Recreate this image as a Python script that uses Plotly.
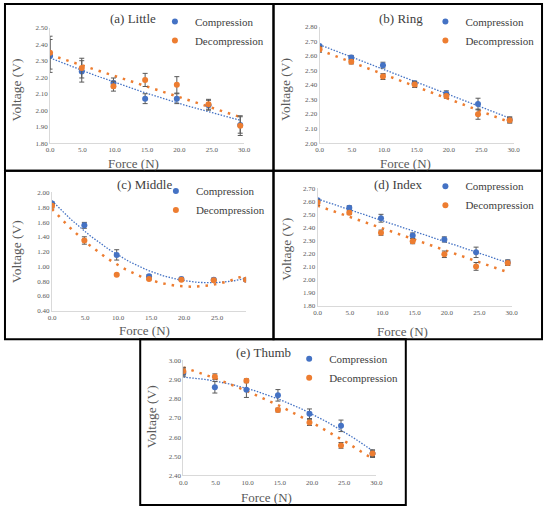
import numpy as np
import plotly.graph_objects as go

# Applied force (N) - same for all fingers
force = [0, 4.9, 9.8, 14.7, 19.6, 24.5, 29.4]

# (a) Little
little_comp = [2.33, 2.236, 2.166, 2.07, 2.07, 2.03, 1.91]
little_comp_err = [0.10, 0.065, 0.03, 0.03, 0.03, 0.03, 0.05]
little_decomp = [2.35, 2.256, 2.146, 2.184, 2.154, 2.036, 1.906]
little_decomp_err = [0.10, 0.06, 0.03, 0.04, 0.05, 0.03, 0.06]

# (b) Ring
ring_comp = [2.668, 2.589, 2.537, 2.412, 2.340, 2.269, 2.16]
ring_comp_err = [0.01, 0.015, 0.02, 0.015, 0.02, 0.04, 0.02]
ring_decomp = [2.646, 2.560, 2.458, 2.403, 2.324, 2.199, 2.158]
ring_decomp_err = [0.02, 0.015, 0.02, 0.02, 0.015, 0.035, 0.02]

# (c) Middle
middle_comp = [1.853, 1.556, 1.156, 0.867, 0.831, 0.82, 0.82]
middle_comp_err = [0.02, 0.04, 0.07, 0.02, 0.02, 0.02, 0.02]
middle_decomp = [1.822, 1.351, 0.889, 0.831, 0.818, 0.813, 0.818]
middle_decomp_err = [0.03, 0.05, 0.01, 0.01, 0.01, 0.01, 0.01]

# (d) Index
index_comp = [2.612, 2.554, 2.473, 2.340, 2.310, 2.211, 2.133]
index_comp_err = [0.01, 0.015, 0.03, 0.02, 0.02, 0.04, 0.02]
index_decomp = [2.594, 2.516, 2.362, 2.297, 2.196, 2.103, 2.130]
index_decomp_err = [0.02, 0.015, 0.02, 0.02, 0.025, 0.03, 0.02]

# (e) Thumb
thumb_comp = [2.935, 2.860, 2.847, 2.818, 2.722, 2.659, 2.514]
thumb_comp_err = [0.02, 0.03, 0.04, 0.03, 0.025, 0.03, 0.02]
thumb_decomp = [2.944, 2.915, 2.894, 2.741, 2.676, 2.557, 2.514]
thumb_decomp_err = [0.02, 0.015, 0.01, 0.01, 0.015, 0.015, 0.015]

titles = ['(a) Little', '(b) Ring', '(c) Middle', '(d) Index', '(e) Thumb']
series = [
    (little_comp, little_comp_err, little_decomp, little_decomp_err),
    (ring_comp, ring_comp_err, ring_decomp, ring_decomp_err),
    (middle_comp, middle_comp_err, middle_decomp, middle_decomp_err),
    (index_comp, index_comp_err, index_decomp, index_decomp_err),
    (thumb_comp, thumb_comp_err, thumb_decomp, thumb_decomp_err),
]
# trendline polynomial order (compression, decompression)
fit_order = [(2, 1), (1, 1), (2, 2), (1, 1), (2, 2)]
y_ranges = [(1.8, 2.5), (2.0, 2.8), (0.4, 2.0), (1.8, 2.7), (2.4, 3.0)]
y_dticks = [0.1, 0.1, 0.2, 0.1, 0.1]
x_max = [30, 30, 29.4, 30, 30]

W, H = 550, 514
def px(x):
    return x / W
def py(y):
    return 1 - y / H

# pixel layout of each panel: plot box (left, right, top, bottom), frame, title, legend
plot_px = [(47, 245, 25, 142), (322, 520, 24, 142), (49, 247, 192, 312),
           (320, 518, 188, 307), (183, 380, 362, 479)]
frame_px = [(1, 275, 1, 170), (275, 549, 1, 170), (1, 275, 170, 341),
            (275, 549, 170, 341), (139, 410, 341, 509)]
title_px = [(132, 16), (405, 16), (143, 184), (403, 184), (265, 354)]
xtitle_px = [(132, 163), (410, 163), (143, 332), (407, 333), (268, 501)]
ytitle_px = [(13, 88), (288, 88), (13, 252), (288, 250), (150, 420)]
legend_px = [(154, 4), (430, 4), (155, 176), (430, 171), (291, 346)]

BLUE = '#4472C4'
ORANGE = '#ED7D31'
FONT = 'Liberation Serif, Times New Roman, Times, serif'
TXT = '#595959'

fig = go.Figure()
annotations = []
shapes = []

for i in range(5):
    sfx = '' if i == 0 else str(i + 1)
    xa, ya = 'x' + sfx, 'y' + sfx
    comp, comp_err, dec, dec_err = series[i]
    xs = np.linspace(0, force[-1], 80)

    # trendlines fitted to the measured points
    for vals, order, col, w, dash in [
        (comp, fit_order[i][0], BLUE, 1.3, '1.5px,1.5px'),
        (dec, fit_order[i][1], ORANGE, 2.5, '2.5px,6px'),
    ]:
        coef = np.polyfit(force, vals, order)
        fig.add_trace(go.Scatter(
            x=xs, y=np.polyval(coef, xs), mode='lines',
            line=dict(color=col, width=w, dash=dash),
            xaxis=xa, yaxis=ya, showlegend=False, hoverinfo='skip'))

    for vals, err, col, name in [(comp, comp_err, BLUE, 'Compression'),
                                 (dec, dec_err, ORANGE, 'Decompression')]:
        fig.add_trace(go.Scatter(
            x=force, y=vals, mode='markers', name=name,
            marker=dict(color=col, size=6),
            error_y=dict(type='data', array=err, color='#595959',
                         thickness=1, width=2.5),
            xaxis=xa, yaxis=ya, legend='legend' + sfx))

    lo, hi = y_ranges[i]
    yticks = np.round(np.arange(lo, hi + y_dticks[i] / 2, y_dticks[i]), 2)
    l, r, t, b = plot_px[i]
    fig.update_layout({
        'xaxis' + sfx: dict(
            domain=[px(l), px(r)], range=[0, x_max[i]], anchor=ya,
            tick0=0, dtick=5, tickformat='.1f', showline=True,
            linecolor='#D9D9D9', linewidth=1, showgrid=False, zeroline=False,
            ticks='', tickfont=dict(family=FONT, size=7, color=TXT)),
        'yaxis' + sfx: dict(
            domain=[py(b), py(t)], range=[lo, hi + 0.002],
            anchor=xa, tickvals=yticks, tickformat='.2f',
            showline=True, linecolor='#D9D9D9', linewidth=1, showgrid=False,
            zeroline=False, ticks='',
            tickfont=dict(family=FONT, size=7, color=TXT)),
        'legend' + sfx: dict(
            x=px(legend_px[i][0]), y=py(legend_px[i][1]),
            xanchor='left', yanchor='top', bgcolor='rgba(0,0,0,0)',
            itemwidth=30, font=dict(family=FONT, size=11, color='#404040')),
    })

    annotations.append(dict(
        x=px(title_px[i][0]), y=py(title_px[i][1]), xref='paper', yref='paper',
        xanchor='center', yanchor='middle', text=titles[i], showarrow=False,
        font=dict(family=FONT, size=13, color='#404040')))
    annotations.append(dict(
        x=px(xtitle_px[i][0]), y=py(xtitle_px[i][1]), xref='paper', yref='paper',
        xanchor='center', yanchor='middle', text='Force (N)', showarrow=False,
        font=dict(family=FONT, size=13, color=TXT)))
    annotations.append(dict(
        x=px(ytitle_px[i][0]), y=py(ytitle_px[i][1]), xref='paper', yref='paper',
        xanchor='center', yanchor='middle', text='Voltage (V)', showarrow=False,
        textangle=-90, font=dict(family=FONT, size=13.5, color=TXT)))

    fl, fr, ft, fb = frame_px[i]
    shapes.append(dict(type='rect', xref='paper', yref='paper',
                       x0=px(fl), x1=px(fr), y0=py(fb), y1=py(ft),
                       line=dict(color='black', width=2)))

fig.update_layout(
    width=W, height=H,
    margin=dict(l=0, r=0, t=0, b=0),
    paper_bgcolor='white', plot_bgcolor='white',
    annotations=annotations, shapes=shapes,
)

fig.write_html('out.html', config={'displayModeBar': False},
               post_script="document.body.style.margin='0';")
